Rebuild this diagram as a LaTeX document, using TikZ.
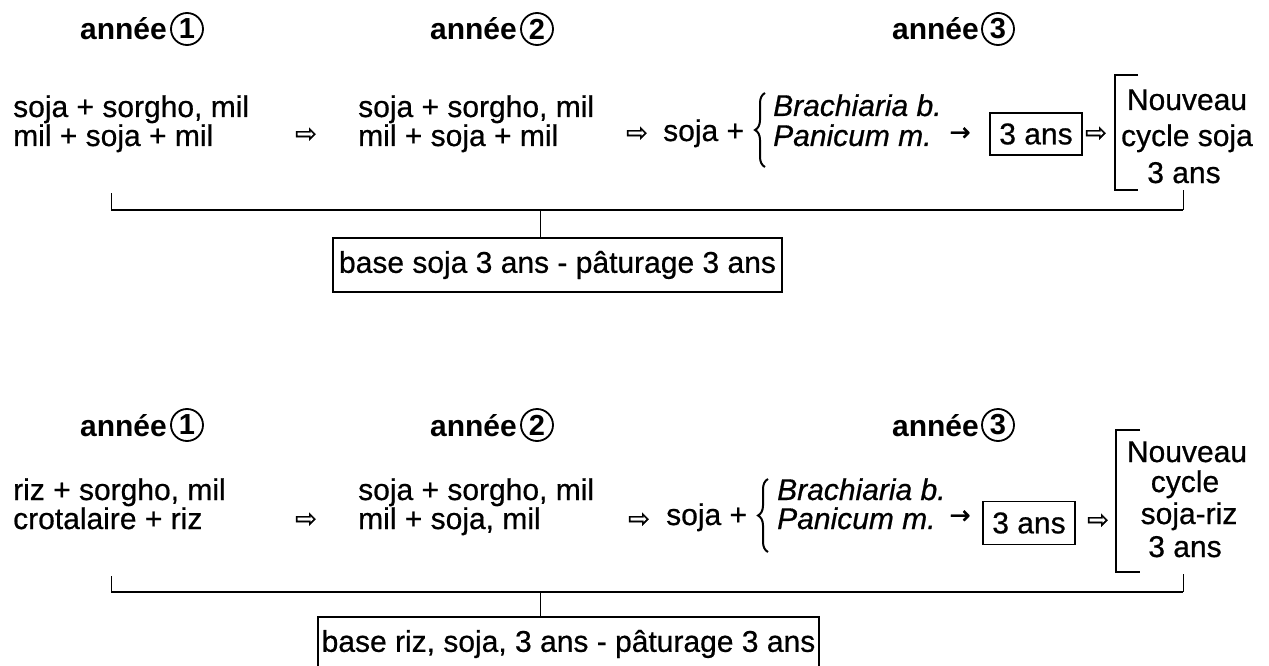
\documentclass[tikz,border=0pt]{standalone}
\usepackage{fontspec}
\setmainfont{Liberation Sans}
\newfontfamily\heavy{Liberation Sans}[FakeBold=0.6]
\newfontfamily\symfont{DejaVu Sans}[FakeBold=1.2]
\usetikzlibrary{decorations.pathreplacing}
\tikzset{
  txt/.style={inner sep=0pt, anchor=base west, font=\fontsize{30}{34}\heavy},
  itx/.style={inner sep=0pt, anchor=base west, font=\fontsize{30}{34}\heavy\itshape},
  ctr/.style={inner sep=0pt, anchor=base, font=\fontsize{30}{34}\heavy},
  yr/.style={inner sep=0pt, anchor=base east, font=\fontsize{30}{34}\selectfont\bfseries},
  num/.style={circle, draw, line width=1.8pt, inner sep=0pt, minimum size=32pt, font=\fontsize{29}{32}\selectfont\bfseries},
  harr/.style={inner sep=0pt, font=\fontsize{26}{30}\symfont},
  sarr/.style={inner sep=0pt, font=\fontsize{25}{30}\symfont},
  boxn/.style={draw, line width=1.4pt, inner sep=0pt, minimum width=92pt, minimum height=42pt, font=\fontsize{30}{34}\heavy},
  basebox/.style={draw, line width=1.6pt, inner sep=0pt, minimum height=54pt, font=\fontsize{30}{34}\heavy},
  mainln/.style={line width=2.4pt},
  thin/.style={line width=1pt},
  brk/.style={line width=1.5pt},
  brc/.style={decorate, decoration={brace, amplitude=10pt}, line width=2pt}
}
\begin{document}
\begin{tikzpicture}[x=1pt, y=-1pt]
\useasboundingbox (0,0) rectangle (1269,666);
% ================= TOP =================
\node[yr] (a1) at (167,40) {année};
\node[num] (c1) at (187,29) {1};
\node[yr] (a2) at (517,40) {année};
\node[num] (c2) at (537,29) {2};
\node[yr] (a3) at (979,40) {année};
\node[num] (c3) at (998,29) {3};

\node[txt] (l1a) at (13,117) {soja + sorgho, mil};
\node[txt] (l1b) at (13,146) {mil + soja + mil};
\node[harr] (h1) at (306,135) {⇨};
\node[txt] (m1a) at (358,117) {soja + sorgho, mil};
\node[txt] (m1b) at (358,146) {mil + soja + mil};
\node[harr] (h2) at (637,134) {⇨};
\node[txt] (s1) at (663,141) {soja +};
\coordinate (b1t) at (765,93);
\coordinate (b1b) at (765,167);
\draw[brc] (b1b) -- (b1t);
\node[itx] (i1a) at (773,116) {Brachiaria b.};
\node[itx] (i1b) at (773,146) {Panicum m.};
\node[sarr] (r1) at (960,134) {→};
\node[boxn] (t1) at (1036,134) {3 ans};
\node[harr] (h3) at (1096,134) {⇨};
\node[ctr] (n1a) at (1187,110) {Nouveau};
\node[ctr] (n1b) at (1187,146) {cycle soja};
\node[ctr] (n1c) at (1184,183) {3 ans};
\coordinate (k1a) at (1138,75);
\coordinate (k1b) at (1115,75);
\coordinate (k1c) at (1115,190);
\coordinate (k1d) at (1138,190);
\draw[brk] (k1a) -- (k1b) -- (k1c) -- (k1d);

\coordinate (L1) at (111,210);
\coordinate (R1) at (1183,210);
\coordinate (M1) at (540,210);
\coordinate (L1t) at (111,193);
\coordinate (R1t) at (1183,190);
\draw[mainln] (L1) -- (R1);
\draw[thin] (L1t) -- (L1);
\draw[thin] (R1t) -- (R1);
\node[basebox, minimum width=449pt] (base1) at (557.5,265) {base soja 3 ans - pâturage 3 ans};
\draw[thin] (M1) -- (base1.north -| M1);

% ================= BOTTOM =================
\node[yr] (a4) at (167,436) {année};
\node[num] (c4) at (187,425) {1};
\node[yr] (a5) at (517,436) {année};
\node[num] (c5) at (537,425) {2};
\node[yr] (a6) at (979,436) {année};
\node[num] (c6) at (998,425) {3};

\node[txt] (l2a) at (13,500) {riz + sorgho, mil};
\node[txt] (l2b) at (13,529) {crotalaire + riz};
\node[harr] (h4) at (306,520) {⇨};
\node[txt] (m2a) at (358,500) {soja + sorgho, mil};
\node[txt] (m2b) at (358,529) {mil + soja, mil};
\node[harr] (h5) at (639,520) {⇨};
\node[txt] (s2) at (666,525) {soja +};
\coordinate (b2t) at (768,479);
\coordinate (b2b) at (768,552);
\draw[brc] (b2b) -- (b2t);
\node[itx] (i2a) at (777,500) {Brachiaria b.};
\node[itx] (i2b) at (777,529) {Panicum m.};
\node[sarr] (r2) at (960,517) {→};
\node[boxn, minimum height=43pt] (t2) at (1029,523) {3 ans};
\node[harr] (h6) at (1098,521) {⇨};
\node[ctr] (n2a) at (1187,462) {Nouveau};
\node[ctr] (n2b) at (1185,492) {cycle};
\node[ctr] (n2c) at (1189,524) {soja-riz};
\node[ctr] (n2d) at (1185,557) {3 ans};
\coordinate (k2a) at (1140,430);
\coordinate (k2b) at (1116,430);
\coordinate (k2c) at (1116,572);
\coordinate (k2d) at (1140,572);
\draw[brk] (k2a) -- (k2b) -- (k2c) -- (k2d);

\coordinate (L2) at (111,592);
\coordinate (R2) at (1183,592);
\coordinate (M2) at (540,592);
\coordinate (L2t) at (111,576);
\coordinate (R2t) at (1183,574);
\draw[mainln] (L2) -- (R2);
\draw[thin] (L2t) -- (L2);
\draw[thin] (R2t) -- (R2);
\node[basebox, minimum width=501pt] (base2) at (568.5,644) {base riz, soja, 3 ans - pâturage 3 ans};
\draw[thin] (M2) -- (base2.north -| M2);
\end{tikzpicture}
\end{document}
